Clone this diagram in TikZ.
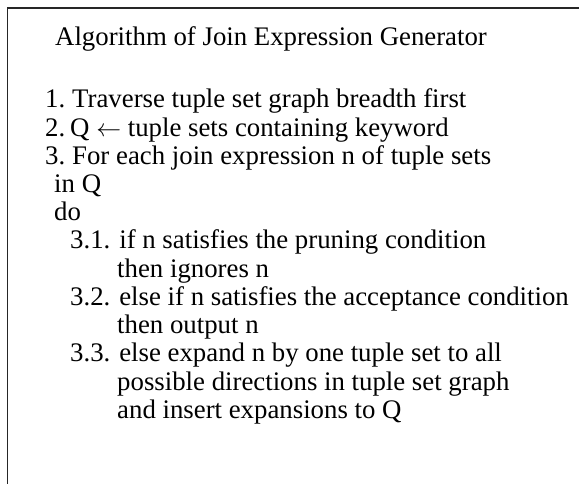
\documentclass[tikz,border=0pt]{standalone}
\usepackage{fontspec}
\setmainfont{Liberation Serif}
\begin{document}
\begin{tikzpicture}[x=1pt,y=-1pt,
  algline/.style={anchor=base west,inner sep=0pt,text height=18pt,text depth=5pt,font=\fontsize{26.8}{28}\selectfont},
  frameline/.style={draw=black!85,line width=1.2pt}]
\useasboundingbox (0,0) rectangle (579,484);
\coordinate (corner) at (7.5,8);
\coordinate (topend) at (579,8);
\coordinate (leftend) at (7.5,484);
\draw[frameline] (topend) -- (corner) -- (leftend);
\node[algline] (title) at (55,46) {Algorithm of Join Expression Generator};
\node[algline] (step1) at (45,108) {\makebox[27pt][l]{1.}Traverse tuple set graph breadth first};
\node[algline] (step2) at (45,136.2) {\makebox[25pt][l]{2.}Q $\leftarrow$ tuple sets containing keyword};
\node[algline] (step3) at (45,164.4) {\makebox[27pt][l]{3.}For each join expression n of tuple sets};
\node[algline] (inq) at (54,192.6) {in Q};
\node[algline] (do) at (54,220.8) {do};
\node[algline] (step31) at (70,249) {3.1. if n satisfies the pruning condition};
\node[algline] (then31) at (117,277.2) {then ignores n};
\node[algline] (step32) at (70,305.4) {3.2. else if n satisfies the acceptance condition};
\node[algline] (then32) at (117,333.6) {then output n};
\node[algline] (step33) at (70,361.8) {3.3. else expand n by one tuple set to all};
\node[algline] (more33) at (117,390) {possible directions in tuple set graph};
\node[algline] (last33) at (117,418.2) {and insert expansions to Q};
\end{tikzpicture}
\end{document}
